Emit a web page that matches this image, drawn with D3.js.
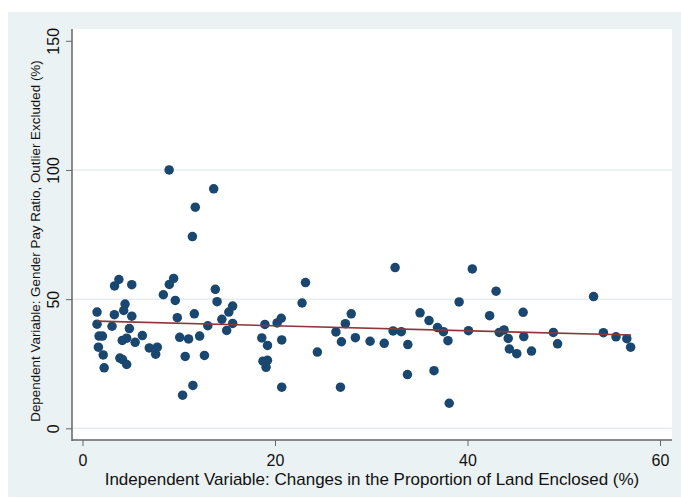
<!DOCTYPE html>
<html>
<head>
<meta charset="utf-8">
<script src="https://cdn.jsdelivr.net/npm/d3@7"></script>
<style>
body { margin: 0; background: #fff; }
text { font-family: "Liberation Sans", Arial, sans-serif; }
</style>
</head>
<body>
<script>
// changes in the proportion of land enclosed (%)
var landChange = [1.51, 1.51, 1.72, 2.07, 1.65, 2.15, 2.25, 3.07, 3.31, 3.33, 3.78, 3.88, 4.16, 4.13, 4.28, 4.42, 4.59, 4.59, 4.87, 5.12, 5.12, 5.47, 6.22, 6.94, 7.6, 7.77,
    8.4, 9.0, 9.02, 9.47, 9.64, 9.85, 10.1, 10.4, 10.67, 11.02, 11.42, 11.47, 11.62, 11.72, 12.17, 12.67, 13.02, 13.63, 13.8, 13.98, 14.48, 14.98, 15.2, 15.6, 15.6,
    18.63, 18.95, 19.22, 18.75, 19.22, 19.07, 20.22, 20.65, 20.7, 20.7,
    22.81, 23.17, 24.4, 26.33, 26.8, 26.9, 27.31, 27.92, 28.35, 29.88,
    31.35, 32.27, 32.48, 33.12, 33.8, 33.76, 35.07, 36.0, 36.52, 36.88, 37.5, 37.97, 38.1, 39.13, 40.1, 40.5,
    42.3, 42.97, 43.3, 43.8, 44.23, 44.35, 45.12, 45.78, 45.85, 46.65, 48.92, 49.36,
    53.1, 54.12, 55.43, 56.55, 56.95];
// gender pay ratio (%)
var payRatio = [45.0, 40.3, 35.7, 35.7, 31.4, 28.4, 23.4, 39.5, 44.0, 55.1, 57.6, 27.2, 26.6, 34.0, 45.6, 48.1, 24.7, 34.9, 38.6, 43.4, 55.6, 33.3, 35.9, 31.1, 28.7, 31.4,
    51.7, 100, 55.7, 58.0, 49.5, 42.8, 35.2, 12.8, 27.8, 34.6, 74.2, 16.6, 44.3, 85.6, 35.7, 28.2, 39.7, 92.7, 53.8, 49.0, 42.2, 37.9, 45.0, 47.3, 40.6,
    35.0, 40.2, 32.1, 26.0, 26.3, 23.6, 40.8, 42.6, 34.2, 15.9,
    48.5, 56.4, 29.5, 37.3, 15.9, 33.5, 40.5, 44.3, 35.1, 33.7,
    32.9, 37.7, 62.2, 37.4, 32.4, 20.8, 44.7, 41.7, 22.3, 39.0, 37.4, 33.9, 9.7, 48.9, 37.8, 61.7,
    43.6, 53.1, 37.1, 38.1, 34.8, 30.7, 28.9, 44.9, 35.5, 29.9, 37.1, 32.7,
    51.0, 37.0, 35.4, 34.7, 31.4];
// linear fit end points
var fitX = [1.5, 57.0];
var fitY = [41.5, 36.1];

var xTicks = [0, 20, 40, 60];
var yTicks = [0, 50, 100, 150];
var gridTicks = [0, 50, 100];
var xTitle = "Independent Variable: Changes in the Proportion of Land Enclosed (%)";
var yTitle = "Dependent Variable: Gender Pay Ratio, Outlier Excluded (%)";

var w = 681;
var h = 498;
var plotL = 72, plotR = 672, plotT = 29, plotB = 440;

var x = d3.scaleLinear().domain([0, 60]).range([82.5, 660]);
var y = d3.scaleLinear().domain([0, 150]).range([428.3, 40.8]);

var svg = d3.select("body")
    .append("svg")
    .attr("width", w)
    .attr("height", h);

// graph region and plot region
svg.append("rect")
    .attr("x", 8).attr("y", 12)
    .attr("width", w - 8).attr("height", 485)
    .attr("fill", "#eaf2f3");
svg.append("rect")
    .attr("x", plotL).attr("y", plotT)
    .attr("width", plotR - plotL).attr("height", plotB - plotT)
    .attr("fill", "#fff");

// grid lines
svg.selectAll("line.grid")
    .data(gridTicks)
    .enter()
    .append("line")
    .attr("class", "grid")
    .attr("x1", plotL).attr("x2", plotR)
    .attr("y1", function(d) { return y(d); })
    .attr("y2", function(d) { return y(d); })
    .attr("stroke", "#e6eef0")
    .attr("stroke-width", 1.5);

// axes
var yAxis = svg.append("g")
    .attr("transform", "translate(" + plotL + ",0)")
    .call(d3.axisLeft(y).tickValues(yTicks).tickSize(6).tickSizeOuter(0));
yAxis.select(".domain").remove();
yAxis.selectAll("line").attr("stroke", "#666");
yAxis.selectAll("text")
    .attr("transform", "rotate(-90)")
    .attr("x", 0).attr("y", -13.5).attr("dy", 0)
    .attr("text-anchor", "middle")
    .attr("font-size", 16)
    .attr("font-family", "Liberation Sans, Arial, sans-serif")
    .attr("fill", "#111");

var xAxis = svg.append("g")
    .attr("transform", "translate(0," + plotB + ")")
    .call(d3.axisBottom(x).tickValues(xTicks).tickSize(6).tickSizeOuter(0));
xAxis.select(".domain").remove();
xAxis.selectAll("line").attr("stroke", "#666");
xAxis.selectAll("text")
    .attr("y", 25.5).attr("dy", 0)
    .attr("font-size", 16)
    .attr("font-family", "Liberation Sans, Arial, sans-serif")
    .attr("fill", "#111");

// axis lines
svg.append("line")
    .attr("x1", plotL).attr("x2", plotL)
    .attr("y1", plotT).attr("y2", plotB + 1)
    .attr("stroke", "#666").attr("stroke-width", 1.5);
svg.append("line")
    .attr("x1", plotL).attr("x2", plotR)
    .attr("y1", plotB).attr("y2", plotB)
    .attr("stroke", "#666").attr("stroke-width", 1.5);

// points
svg.selectAll("circle")
    .data(landChange)
    .enter()
    .append("circle")
    .attr("cx", function(d) { return x(d); })
    .attr("cy", function(d, i) { return y(payRatio[i]); })
    .attr("r", 4.75)
    .attr("fill", "#1a476f");

// fitted line
var fitLine = d3.line()
    .x(function(d) { return x(d); })
    .y(function(d, i) { return y(fitY[i]); });
svg.append("path")
    .attr("d", fitLine(fitX))
    .attr("fill", "none")
    .attr("stroke", "#90353b")
    .attr("stroke-width", 1.6);

// titles
svg.append("text")
    .text(xTitle)
    .attr("x", (plotL + plotR) / 2)
    .attr("y", 484.5)
    .attr("text-anchor", "middle")
    .attr("font-size", 17)
    .attr("fill", "#111");
svg.append("text")
    .text(yTitle)
    .attr("transform", "translate(40,241) rotate(-90)")
    .attr("text-anchor", "middle")
    .attr("font-size", 13.4)
    .attr("fill", "#111");
</script>
</body>
</html>
